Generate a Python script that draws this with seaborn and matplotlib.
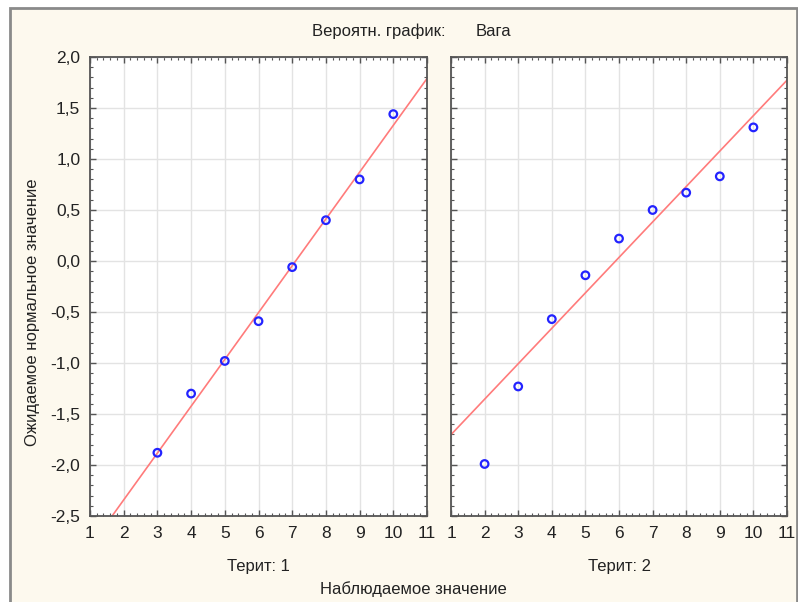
import matplotlib
matplotlib.use('Agg')
import matplotlib.pyplot as plt
from matplotlib.patches import Rectangle
from matplotlib.ticker import MultipleLocator, FuncFormatter
import seaborn as sns
import numpy as np
import pandas as pd

# observed values and expected normal values, per territory
terit1_x = [3, 4, 5, 6, 7, 8, 9, 10]
terit1_y = [-1.88, -1.30, -0.98, -0.59, -0.06, 0.40, 0.80, 1.44]
terit2_x = [2, 3, 4, 5, 6, 7, 8, 9, 10]
terit2_y = [-1.99, -1.23, -0.57, -0.14, 0.22, 0.50, 0.67, 0.83, 1.31]

# fitted normal lines (intercept, slope)
fit1 = (-3.26, 0.459)
fit2 = (-2.05, 0.3475)

panel_titles = ['Терит: 1', 'Терит: 2']

sns.set_style('white')
plt.rcParams['font.family'] = ['Liberation Sans', 'DejaVu Sans']

bg = '#fdf9ee'
fig = plt.figure(figsize=(7.98, 6.02), dpi=100)
fig.patch.set_facecolor('white')
fig.patches.append(Rectangle((10 / 798, -0.01), 787 / 798, 1 - 8 / 602 + 0.01,
                             transform=fig.transFigure, facecolor=bg,
                             edgecolor='#8a8a8a', linewidth=2, zorder=-1))

ax1 = fig.add_axes([90 / 798, 86 / 602, 337 / 798, 459 / 602])
ax2 = fig.add_axes([451 / 798, 86 / 602, 336 / 798, 459 / 602])

fmt = FuncFormatter(lambda v, p: f'{v:.1f}'.replace('.', ','))

data = [(terit1_x, terit1_y, fit1), (terit2_x, terit2_y, fit2)]
for i, (ax, (xs, ys, fit)) in enumerate(zip([ax1, ax2], data)):
    ax.set_facecolor('white')
    line_x = np.array([0.0, 12.0])
    sns.lineplot(x=line_x, y=fit[0] + fit[1] * line_x, ax=ax, color='#ff7b7b',
                 linewidth=1.2, zorder=2)
    sns.scatterplot(x=xs, y=ys, ax=ax, marker='o', s=30, facecolor='none',
                    edgecolor='#2323ff', linewidth=1.6, zorder=3)
    ax.set_xlim(1, 11)
    ax.set_ylim(-2.5, 2.0)
    ax.xaxis.set_major_locator(MultipleLocator(1))
    ax.xaxis.set_minor_locator(MultipleLocator(0.2))
    ax.yaxis.set_major_locator(MultipleLocator(0.5))
    ax.yaxis.set_minor_locator(MultipleLocator(0.1))
    ax.yaxis.set_major_formatter(fmt)
    ax.grid(True, which='major', color='#e3e3e3', linewidth=1)
    ax.set_axisbelow(True)
    for s in ax.spines.values():
        s.set_visible(True)
        s.set_color('#555555')
        s.set_linewidth(1.3)
    ax.tick_params(which='both', direction='in', top=True, right=True,
                   left=True, bottom=True, colors='#555555', labelcolor='#222222')
    ax.tick_params(which='major', length=4, width=1, labelsize=12.5, pad=7)
    ax.tick_params(which='minor', length=2, width=0.8)
    ax.set_xlabel('')
    ax.set_ylabel('')
    ax.text(0.5, -0.11, panel_titles[i], transform=ax.transAxes, ha='center',
            va='center', fontsize=12, color='#222222')

ax2.tick_params(labelleft=False)

fig.text(312 / 798, 1 - 31 / 602, 'Вероятн. график:', ha='left', va='center',
         fontsize=12, color='#222222')
fig.text(476 / 798, 1 - 31 / 602, 'Вага', ha='left', va='center',
         fontsize=12, color='#222222')
fig.text(413 / 798, 1 - 589 / 602, 'Наблюдаемое значение', ha='center',
         va='center', fontsize=12, color='#222222')
fig.text(33 / 798, 1 - 312 / 602, 'Ожидаемое нормальное значение', ha='center',
         va='center', rotation=90, fontsize=12, color='#222222')

fig.savefig('out.png', dpi=100, facecolor=fig.get_facecolor())
